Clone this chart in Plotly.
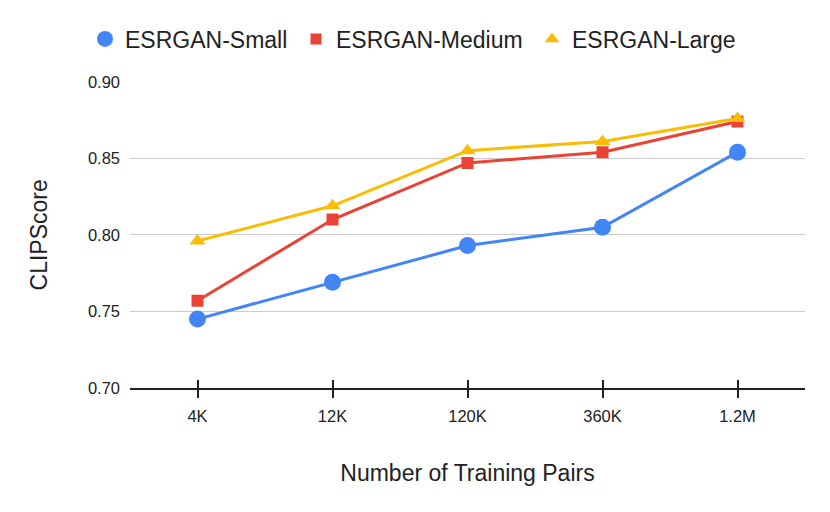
import plotly.graph_objects as go

categories = ["4K", "12K", "120K", "360K", "1.2M"]
small = [0.745, 0.769, 0.793, 0.805, 0.854]
medium = [0.757, 0.810, 0.847, 0.854, 0.874]
large = [0.796, 0.819, 0.855, 0.861, 0.876]
y_ticks = [0.70, 0.75, 0.80, 0.85, 0.90]
y_tick_labels = ["0.70", "0.75", "0.80", "0.85", "0.90"]

series = [
    ("ESRGAN-Small", small, "#4285F4", "circle", 17, 17, "legend", 77),
    ("ESRGAN-Medium", medium, "#EA4335", "square", 12, 11, "legend2", 288),
    ("ESRGAN-Large", large, "#FBBC04", "triangle-up", 14, 13, "legend3", 524),
]

FONT = "Liberation Sans"

fig = go.Figure()
for name, vals, color, sym, size, lsize, leg, lx in series:
    fig.add_trace(go.Scatter(
        x=categories, y=vals, mode="lines+markers", name=name,
        line=dict(color=color, width=3),
        marker=dict(color=color, symbol=sym, size=size),
        showlegend=False,
    ))
legends = {}
for name, vals, color, sym, size, lsize, leg, lx in series:
    fig.add_trace(go.Scatter(
        x=[None], y=[None], mode="markers", name=name, legend=leg,
        marker=dict(color=color, symbol=sym, size=lsize),
        showlegend=True,
    ))
    legends[leg] = dict(orientation="h", x=lx / 830, xanchor="left", xref="container",
                        y=1 - 31 / 512, yanchor="middle", yref="container",
                        font=dict(size=23), itemsizing="trace",
                        bgcolor="rgba(0,0,0,0)")
# invisible trace to carry the inside tick marks axis
fig.add_trace(go.Scatter(x=categories, y=[None] * len(categories), xaxis="x2",
                         mode="markers", showlegend=False, hoverinfo="skip"))

fig.update_layout(
    width=830, height=512,
    margin=dict(l=122, r=33, t=71, b=132),
    paper_bgcolor="white", plot_bgcolor="white",
    font=dict(family=FONT, color="#222222", size=16.5),
    xaxis=dict(
        type="category", range=[-0.5, 4.5],
        showline=True, linecolor="#222222", linewidth=1.5,
        ticks="outside", ticklen=8, tickcolor="#222222", tickwidth=1.5,
        showgrid=False, tickfont=dict(size=16.5), ticklabelstandoff=4,
        title=dict(text="Number of Training Pairs", font=dict(size=23), standoff=41),
    ),
    xaxis2=dict(
        type="category", range=[-0.5, 4.5], overlaying="x", anchor="y", side="bottom",
        categoryorder="array", categoryarray=categories,
        showline=False, ticks="inside", ticklen=8, tickcolor="#222222", tickwidth=1.5,
        showticklabels=False, showgrid=False, zeroline=False,
    ),
    yaxis=dict(
        range=[0.70, 0.90], tickvals=y_ticks, ticktext=y_tick_labels,
        showgrid=True, gridcolor="#cccccc", gridwidth=1,
        zeroline=False, showline=False, ticks="", tickfont=dict(size=16.5),
        ticklabelstandoff=9,
        title=dict(text="CLIPScore", font=dict(size=23), standoff=33),
    ),
    **legends,
)

fig.write_html("out.html")
